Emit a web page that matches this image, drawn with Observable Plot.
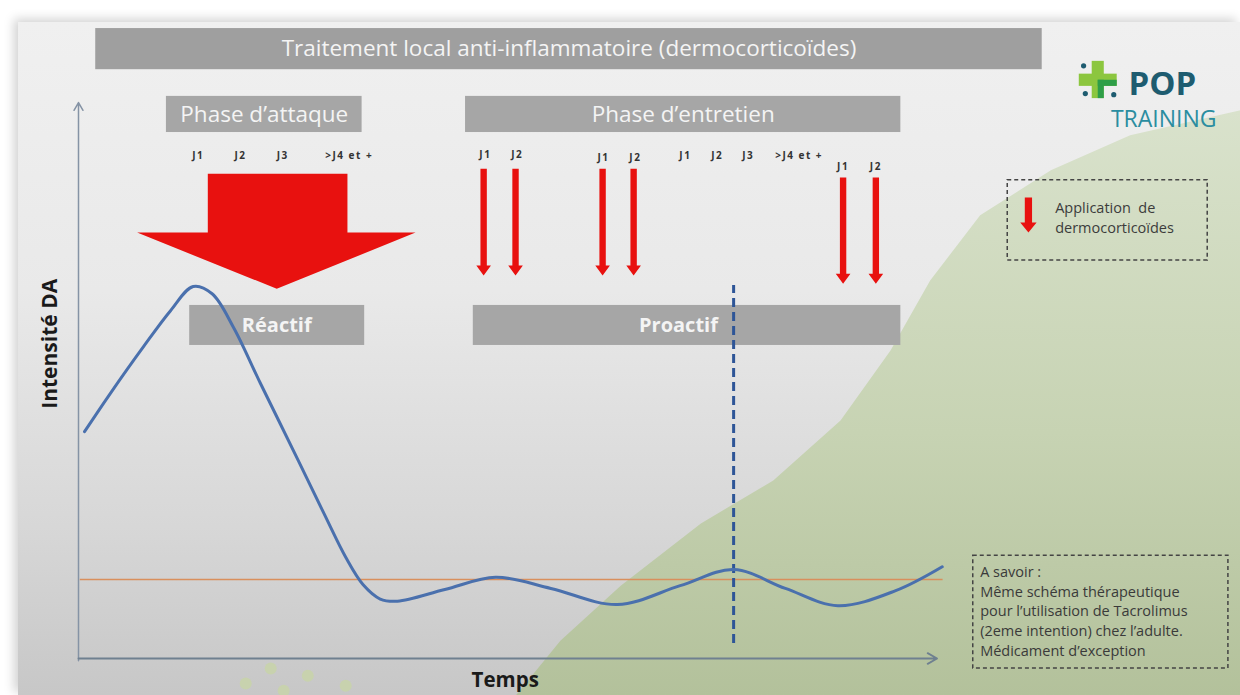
<!DOCTYPE html>
<html><head><meta charset="utf-8">
<script src="https://cdn.jsdelivr.net/npm/d3@7"></script>
<script src="https://cdn.jsdelivr.net/npm/@observablehq/plot@0.6"></script>
<style>
html,body{margin:0;padding:0;background:#fff;width:1240px;height:695px;overflow:hidden}
#slide{position:absolute;left:18px;top:22px;width:1222px;height:673px;background:linear-gradient(#f0f0f0 0%, #e9e9e9 40%, #d7d7d7 75%, #c7c7c7 100%);box-shadow:-4px -3px 10px rgba(0,0,0,0.18)}
#chart{position:absolute;left:0;top:0}
.days text{letter-spacing:1.5px}
</style></head><body><div id="slide"></div><div id="chart"></div>
<script>
// ---- Data (time units 0..100, intensity units 0..100) ----
const curveTime      = [0.7, 3.7, 7.5, 10.7, 13.3, 15.5, 18.0, 21.1, 25.5, 28.5, 31.0, 33.0, 35.0, 37.0, 42.5, 48.4, 54.8, 62.5, 69.8, 76.0, 82.0, 88.1, 94.8, 100.2];
const curveIntensity = [40.8, 47.7, 56.0, 62.6, 66.9, 65.6, 59.5, 49.5, 35.6, 26.0, 18.2, 13.3, 10.7, 10.3, 12.4, 14.6, 12.6, 9.7, 13.1, 16.0, 12.6, 9.5, 12.2, 16.5];
const baselineIntensity = 14.2;
const markerTime = 76.0;

const titleText = "Traitement local anti-inflammatoire (dermocorticoïdes)";
const phaseLabels = ["Phase d\u2019attaque", "Phase d\u2019entretien"];
const modeLabels = ["Réactif", "Proactif"];
const phaseStart = [10.2, 44.9];
const phaseEnd   = [32.9, 95.4];
const modeStart  = [12.9, 45.8];
const modeEnd    = [33.2, 95.4];
const modeLabelAt = [23.0, 69.6];

// application days (thin arrows)
const applicationTimes = [47.0, 50.7, 60.8, 64.4, 88.7, 92.5];
const applicationTop   = [88.1, 88.1, 88.1, 88.1, 86.5, 86.5];
const applicationTip   = [68.9, 68.9, 68.9, 68.9, 67.4, 67.4];

// day labels
const dayLabels = ["J1","J2","J3",">J4 et +", "J1","J2", "J1","J2", "J1","J2","J3",">J4 et +", "J1","J2"];
const dayTimes  = [13.9, 18.8, 23.7, 31.4, 47.2, 50.9, 60.9, 64.6, 70.4, 74.1, 77.7, 83.6, 88.7, 92.5];
const dayLevels = [90.5, 90.5, 90.5, 90.5, 90.6, 90.6, 90.1, 90.1, 90.4, 90.4, 90.4, 90.4, 88.5, 88.5];

const legendLines = ["Application  de", "dermocorticoïdes"];
const noteLines = ["A savoir :", "Même schéma thérapeutique", "pour l\u2019utilisation de Tacrolimus", "(2eme intention) chez l\u2019adulte.", "Médicament d\u2019exception"];

const yLabel = "Intensité DA";
const xLabel = "Temps";

// decorative background blob edge
const blobX = [50.7, 55.9, 62.9, 72.2, 80.6, 88.4, 94.2, 98.8, 104.6, 112.8, 122.0, 134.8, 134.8];
const blobY = [-6.7, 3.2, 13.1, 24.3, 32.0, 42.8, 55.4, 68.0, 79.7, 87.8, 94.1, 98.6, -6.7];

const dotsX = [19.4, 22.3, 23.8, 26.6, 31.0];
const dotsY = [-4.5, -1.8, -5.8, -3.1, -4.9];

// ---- build ----
const curve = curveTime.map((t, i) => ({t, v: curveIntensity[i]}));
const blob = blobX.map((x, i) => ({x, y: blobY[i]}));
const dots = dotsX.map((x, i) => ({x, y: dotsY[i]}));
const days = dayLabels.map((label, i) => ({label, t: dayTimes[i], y: dayLevels[i]}));

function arrowPoly(x, top, tip, id, hw, hh, hl) {
  return [[x - hw, top], [x + hw, top], [x + hw, tip + hl], [x + hh, tip + hl], [x, tip], [x - hh, tip + hl], [x - hw, tip + hl]]
    .map(([a, b]) => ({x: a, y: b, id}));
}
const thinArrows = applicationTimes.flatMap((t, i) => arrowPoly(t, applicationTop[i], applicationTip[i], i, 0.37, 0.85, 1.8));
const legendArrow = arrowPoly(110.2, 82.9, 76.6, "legend", 0.42, 0.95, 1.8);
const bigArrow = [[15.0, 87.2], [31.2, 87.2], [31.2, 76.6], [39.1, 76.6], [23.0, 66.5], [6.8, 76.6], [15.0, 76.6]].map(([x, y]) => ({x, y}));

const phases = phaseLabels.map((label, i) => ({label, x1: phaseStart[i], x2: phaseEnd[i]}));
const modes = modeLabels.map((label, i) => ({label, x1: modeStart[i], x2: modeEnd[i], at: modeLabelAt[i]}));

const font = "'Open Sans', 'Noto Sans', sans-serif";
const red = "#e8110f";

const defs = () => {
  const s = d3.create("svg:defs");
  const g = s.append("linearGradient").attr("id", "blobGrad").attr("x1", 0).attr("y1", 0).attr("x2", 0).attr("y2", 1);
  g.append("stop").attr("offset", "0%").attr("stop-color", "#d9e2cc");
  g.append("stop").attr("offset", "55%").attr("stop-color", "#c7d3b3");
  g.append("stop").attr("offset", "100%").attr("stop-color", "#b3c19b");
  return s.node();
};

const chart = Plot.plot({
  width: 1240, height: 695,
  marginLeft: 78, marginRight: 300, marginTop: 102, marginBottom: 37,
  x: {domain: [0, 100], axis: null},
  y: {domain: [0, 100], axis: null},
  style: {background: "transparent", overflow: "visible", fontFamily: font},
  marks: [
    defs,
    // background blob
    Plot.line(blob, {x: "x", y: "y", fill: "url(#blobGrad)", stroke: "none"}),
    Plot.dot(dots, {x: "x", y: "y", r: 6, fill: "#c8d2ae", stroke: "none"}),
    // title bar
    Plot.rect([0], {x1: 2.0, x2: 111.8, y1: 105.9, y2: 113.3, fill: "#9f9f9f"}),
    Plot.text([titleText], {x: (2.0 + 111.8) / 2, y: 109.6, text: d => d, fill: "#f4f4f4", fontSize: 22.5, fontFamily: font}),
    // phase bars
    Plot.rect(phases, {x1: "x1", x2: "x2", y1: 94.6, y2: 101.1, fill: "#a6a6a6"}),
    Plot.text(phases, {x: d => (d.x1 + d.x2) / 2, y: 97.85, text: "label", fill: "#f4f4f4", fontSize: 22.5, fontFamily: font}),
    // day labels
    Plot.text(days, {x: "t", y: "y", text: "label", fill: "#333", fontSize: 10, fontWeight: "bold", fontFamily: font, className: "days"}),
    // big arrow
    Plot.line(bigArrow, {x: "x", y: "y", fill: red, stroke: "none"}),
    // thin arrows
    Plot.line(thinArrows, {x: "x", y: "y", z: "id", fill: red, stroke: "none"}),
    // mode bars
    Plot.rect(modes, {x1: "x1", x2: "x2", y1: 56.3, y2: 63.5, fill: "#a6a6a6"}),
    Plot.text(modes, {x: "at", y: 59.9, text: "label", fill: "#f4f4f4", fontSize: 20, fontWeight: "bold", fontFamily: font}),
    // axes
    Plot.arrow([0], {x1: 0, y1: -0.4, x2: 0, y2: 100, stroke: "#8593a5", strokeWidth: 1.5, headLength: 9, bend: 0}),
    Plot.arrow([0], {x1: 0, y1: 0, x2: 99.6, y2: 0, stroke: "#6f8090", strokeWidth: 1.8, headLength: 9, bend: 0}),
    // baseline
    Plot.ruleY([baselineIntensity], {x1: 0.2, x2: 100.3, stroke: "#d98f5c", strokeWidth: 1.6}),
    // marker dashed line
    Plot.ruleX([markerTime], {y1: 2.7, y2: 67.1, stroke: "#2e5597", strokeWidth: 3, strokeDasharray: "9,5"}),
    // curve
    Plot.line(curve, {x: "t", y: "v", curve: "catmull-rom", stroke: "#4a70ad", strokeWidth: 3}),
    // axis labels
    Plot.text([yLabel], {x: -3.3, y: 56.6, text: d => d, rotate: -90, fontSize: 21, fontWeight: "bold", fill: "#1a1a1a", fontFamily: font}),
    Plot.text([xLabel], {x: 49.5, y: -4.0, text: d => d, fontSize: 20.5, fontWeight: "bold", fill: "#1a1a1a", fontFamily: font}),
    // legend box
    Plot.rect([0], {x1: 107.8, x2: 131.0, y1: 71.6, y2: 86.0, fill: "none", stroke: "#444", strokeWidth: 1.5, strokeDasharray: "4,3"}),
    Plot.line(legendArrow, {x: "x", y: "y", fill: red, stroke: "none"}),
    Plot.text(legendLines, {x: 113.3, y: (d, i) => 80.9 - i * 3.6, text: d => d, textAnchor: "start", fontSize: 14.5, fill: "#3c3c3c", fontFamily: font}),
    // note box
    Plot.rect([0], {x1: 103.8, x2: 133.4, y1: -1.8, y2: 18.5, fill: "none", stroke: "#444", strokeWidth: 1.5, strokeDasharray: "4,3"}),
    Plot.text(noteLines, {x: 104.6, y: (d, i) => 15.5 - i * 3.55, text: d => d, textAnchor: "start", fontSize: 14.5, fill: "#3a3a3a", fontFamily: font}),
    // logo
    Plot.rect([0], {x1: 117.6, x2: 119.0, y1: 100.7, y2: 107.4, fill: "#8cc63f"}),
    Plot.rect([0], {x1: 116.1, x2: 120.5, y1: 102.9, y2: 105.1, fill: "#8cc63f"}),
    Plot.rect([0], {x1: 118.3, x2: 119.0, y1: 100.7, y2: 104.0, fill: "#2e9e48"}),
    Plot.rect([0], {x1: 118.3, x2: 120.5, y1: 102.9, y2: 104.0, fill: "#2e9e48"}),
    Plot.dot([[116.6, 106.6], [120.1, 101.4], [116.8, 101.6]], {x: d => d[0], y: d => d[1], r: 2.6, fill: "#1e5c70"}),
    Plot.text(["POP"], {x: 121.8, y: 103.2, text: d => d, textAnchor: "start", fontSize: 33, fontWeight: "bold", fill: "#1e5c70", fontFamily: font}),
    Plot.text(["TRAINING"], {x: 125.9, y: 97.0, text: d => d, fontSize: 23, fill: "#2b8da0", fontFamily: font})
  ]
});
document.getElementById("chart").append(chart);
</script>
</body></html>
